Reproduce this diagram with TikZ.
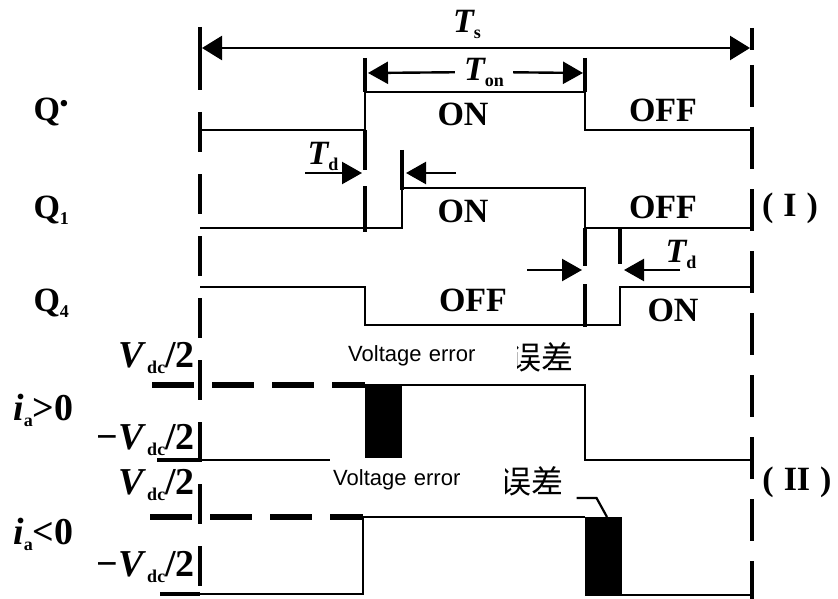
\documentclass[tikz,border=0pt]{standalone}
\usepackage{fontspec}
\setmainfont{Liberation Serif}
\setsansfont{Liberation Sans}
\newfontfamily\cjkfont{Noto Sans CJK SC}
\usetikzlibrary{arrows.meta}
\newcommand{\lsub}[1]{\raisebox{-6pt}{\fontsize{18}{18}\selectfont\upshape\bfseries #1}}

\begin{document}
\begin{tikzpicture}[x=1pt,y=-1pt,
  wave/.style={line width=2.8pt},
  bound/.style={line width=4pt},
  gapbar/.style={line width=4.5pt},
  lvl/.style={line width=6pt,dash pattern=on 42pt off 18pt},
  dimarr/.style={{Triangle[length=20pt,width=24pt]}-{Triangle[length=20pt,width=24pt]},line width=2.4pt},
  onearr/.style={-{Triangle[length=20pt,width=22pt]},line width=2.4pt},
  sig/.style={font=\fontsize{34}{36}\selectfont\bfseries},
  tlab/.style={font=\fontsize{34}{36}\selectfont\bfseries\itshape,inner sep=2pt},
  vlab/.style={font=\fontsize{38}{40}\selectfont\bfseries,inner sep=1pt},
  cjkt/.style={font=\cjkfont\fontsize{32}{34}\selectfont},
  errbox/.style={fill=white,font=\sffamily\fontsize{22}{24}\selectfont,
                 align=left,inner sep=3pt,anchor=west}
]
\useasboundingbox (0,0) rectangle (838,599);

% period borders
\draw[bound] (200,27) -- (200,70);
\draw[bound,dash pattern=on 40pt off 22pt] (200,50) -- (200,599);
\draw[bound] (752,28) -- (752,50);
\draw[bound,dash pattern=on 42pt off 20pt] (752,65) -- (752,599);

% T_s and T_on
\coordinate (tsl) at (202,48);
\coordinate (tsr) at (750,48);
\draw[dimarr] (tsl) -- (tsr);
\node[tlab] (ts) at (467,24) {T\lsub{s}};
\node[tlab,inner xsep=9pt] (ton) at (484,72) {T\lsub{on}};
\coordinate (tonl) at (368,73);
\coordinate (tonr) at (583,73);
\draw[onearr] (ton) -- (tonl);
\draw[onearr] (ton) -- (tonr);

% gate signals
\node[sig,anchor=west] (qs) at (30,112) {Q\textsuperscript{•}};
\node[sig,anchor=west] (q1) at (30,210) {Q\lsub{1}};
\node[sig,anchor=west] (q4) at (30,303) {Q\lsub{4}};

\draw[wave] (200,130) -- (365,130) -- (365,92) -- (585,92) -- (585,130) -- (752,130);
\draw[wave] (200,228) -- (402,228) -- (402,188) -- (585,188) -- (585,228) -- (752,228);
\draw[wave] (200,287) -- (365,287) -- (365,325) -- (620,325) -- (620,287) -- (752,287);

\draw[gapbar] (365,58) -- (365,92);
\draw[gapbar] (365,130) -- (365,170);
\draw[gapbar] (365,186) -- (365,232);
\draw[gapbar] (402,150) -- (402,190);
\draw[gapbar] (585,58) -- (585,92);
\draw[gapbar] (585,228) -- (585,266);
\draw[gapbar] (585,284) -- (585,327);
\draw[gapbar] (620,228) -- (620,264);

\node[sig] (on1) at (463,114) {ON};
\node[sig] (off1) at (663,110) {OFF};
\node[sig] (on2) at (463,211) {ON};
\node[sig] (off2) at (663,207) {OFF};
\node[sig] (off3) at (473,300) {OFF};
\node[sig] (on3) at (673,310) {ON};

% dead time
\node[tlab] (tdl) at (323,156) {T\lsub{d}};
\coordinate (tdla) at (305,173);
\coordinate (tdlb) at (362,173);
\coordinate (tdlc) at (456,173);
\coordinate (tdld) at (406,173);
\draw[onearr] (tdla) -- (tdlb);
\draw[onearr] (tdlc) -- (tdld);
\node[tlab] (tdr) at (681,254) {T\lsub{d}};
\coordinate (tdra) at (527,270);
\coordinate (tdrb) at (582,270);
\coordinate (tdrc) at (680,270);
\coordinate (tdrd) at (624,270);
\draw[onearr] (tdra) -- (tdrb);
\draw[onearr] (tdrc) -- (tdrd);

\node[sig] (grp1) at (790,208) {(\kern10pt I\kern10pt)};

% output voltage
\node[vlab,anchor=east] (vp1) at (196,358) {\textit{V}\kern1pt\lsub{dc}/2};
\node[vlab,anchor=west] (ip) at (12,410) {\textit{i}\lsub{a}>0};
\node[vlab,anchor=east] (vm1) at (196,440) {−\textit{V}\kern1pt\lsub{dc}/2};
\node[vlab,anchor=east] (vp2) at (196,485) {\textit{V}\kern1pt\lsub{dc}/2};
\node[vlab,anchor=west] (in) at (12,534) {\textit{i}\lsub{a}<0};
\node[vlab,anchor=east] (vm2) at (196,567) {−\textit{V}\kern1pt\lsub{dc}/2};

\draw[lvl] (152,385) -- (365,385);
\draw[gapbar] (157,460) -- (200,460);
\draw[wave] (200,460) -- (365,460);
\fill (365,385) rectangle (402,460);
\draw[wave] (365,385) -- (585,385) -- (585,460) -- (752,460);

\draw[lvl] (150,517) -- (363,517);
\draw[gapbar] (160,594) -- (200,594);
\draw[wave] (200,594) -- (363,594) -- (363,517) -- (585,517);
\fill (585,517) rectangle (622,596);
\draw[wave] (622,595) -- (752,595);

\node[sig] (grp2) at (797,482) {(\kern10pt II\kern10pt)};

% error labels
\node[cjkt] (wc1) at (541,357) {误差};
\node[cjkt] (wc2) at (531,481) {误差};
\coordinate (blk2) at (607,517);
\draw[line width=2.2pt] ([shift={(10pt,-17pt)}]wc2.east) -- ++(20pt,0) -- (blk2);
\node[errbox,text width=166pt,minimum height=37pt] (err1) at (345,356) {Voltage error};
\node[errbox,text width=169pt,minimum height=45pt] (err2) at (330,480) {Voltage error};
\end{tikzpicture}
\end{document}
